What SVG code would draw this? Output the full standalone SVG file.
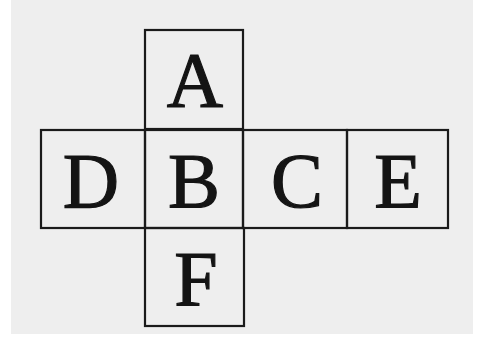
<svg xmlns="http://www.w3.org/2000/svg" width="479" height="342" viewBox="0 0 479 342">
<style>
.box{fill:none;stroke:#1a1a1a;stroke-width:2.2}
.lbl{font-family:"Liberation Serif","DejaVu Serif",serif;font-size:78px;fill:#141414;stroke:#141414;stroke-width:1.2;text-anchor:middle}
</style>
<rect x="0" y="0" width="479" height="342" fill="#ffffff"/>
<rect x="11" y="0" width="462" height="334" fill="#eeeeee"/>
<g id="A"><rect class="box" x="145" y="30" width="98" height="99"/><text class="lbl" x="195" y="106">A</text></g>
<g id="D"><rect class="box" x="41" y="130" width="104" height="98"/><text class="lbl" x="91" y="207">D</text></g>
<g id="B"><rect class="box" x="145" y="130" width="98" height="98"/><text class="lbl" x="194" y="207">B</text></g>
<g id="C"><rect class="box" x="243" y="130" width="104" height="98"/><text class="lbl" x="297" y="207">C</text></g>
<g id="E"><rect class="box" x="347" y="130" width="101" height="98"/><text class="lbl" x="398" y="207">E</text></g>
<g id="F"><rect class="box" x="145" y="228" width="99" height="98"/><text class="lbl" x="196" y="305">F</text></g>
<g id="connectors"></g>
</svg>
